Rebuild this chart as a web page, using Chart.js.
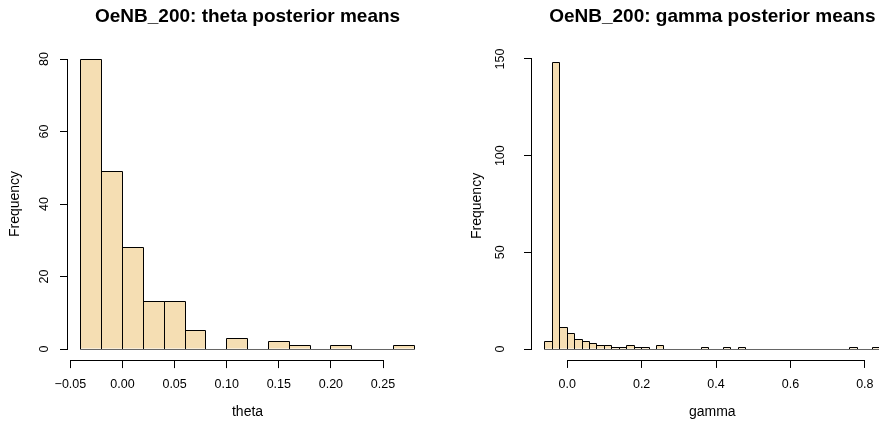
<!DOCTYPE html>
<html>
<head>
<meta charset="utf-8">
<script src="https://cdn.jsdelivr.net/npm/chart.js@4.4.1/dist/chart.umd.min.js"></script>
<style>
  html, body { margin: 0; padding: 0; background: #fff; overflow: hidden; }
  #thetaBox { position: absolute; left: 0; top: 0; width: 440px; height: 424px; }
  #gammaBox { position: absolute; left: 440px; top: 0; width: 470px; height: 424px; }
</style>
</head>
<body>
<div id="thetaBox"><canvas id="thetaChart"></canvas></div>
<div id="gammaBox"><canvas id="gammaChart"></canvas></div>
<script>
// histogram bins (width 0.02), given by their midpoints
const thetaMids = [-0.03, -0.01, 0.01, 0.03, 0.05, 0.07, 0.09, 0.11, 0.13, 0.15, 0.17, 0.19, 0.21, 0.23, 0.25, 0.27];
const thetaCounts = [80, 49, 28, 13, 13, 5, 0, 3, 0, 2, 1, 0, 1, 0, 0, 1];
const thetaTicks = [-0.05, 0, 0.05, 0.10, 0.15, 0.20, 0.25];
const thetaTickLabels = ['\u22120.05', '0.00', '0.05', '0.10', '0.15', '0.20', '0.25'];
const thetaFreqTicks = [0, 20, 40, 60, 80];

const gammaMids = [-0.05, -0.03, -0.01, 0.01, 0.03, 0.05, 0.07, 0.09, 0.11, 0.13,
  0.15, 0.17, 0.19, 0.21, 0.23, 0.25, 0.27, 0.29, 0.31, 0.33,
  0.35, 0.37, 0.39, 0.41, 0.43, 0.45, 0.47, 0.49, 0.51, 0.53,
  0.55, 0.57, 0.59, 0.61, 0.63, 0.65, 0.67, 0.69, 0.71, 0.73,
  0.75, 0.77, 0.79, 0.81, 0.83];
const gammaCounts = [4, 148, 11, 8, 5, 4, 3, 2, 2, 1,
  1, 2, 1, 1, 0, 2, 0, 0, 0, 0,
  0, 1, 0, 0, 1, 0, 1, 0, 0, 0,
  0, 0, 0, 0, 0, 0, 0, 0, 0, 0,
  0, 1, 0, 0, 1];
const gammaTicks = [0, 0.2, 0.4, 0.6, 0.8];
const gammaTickLabels = ['0.0', '0.2', '0.4', '0.6', '0.8'];
const gammaFreqTicks = [0, 50, 100, 150];

const binWidth = 0.02;
const FONT = '"Liberation Sans", Arial, Helvetica, sans-serif';

// snap to the nearest half pixel so 1px lines stay crisp
const half = v => Math.round(v - 0.5) + 0.5;

// R-style drawing: bar outlines, base line of the bins, axis lines between first and last tick
function rStyle(cfg) {
  return {
    id: 'rStyle',
    afterDatasetsDraw(chart) {
      const { ctx } = chart;
      const x = chart.scales.x, y = chart.scales.y;
      const y0 = half(y.getPixelForValue(0));
      ctx.save();
      ctx.lineWidth = 1;
      ctx.strokeStyle = '#000';
      ctx.beginPath();
      chart.getDatasetMeta(0).data.forEach((bar, i) => {
        if (!cfg.counts[i]) return;
        const p = bar.getProps(['x', 'y', 'width'], true);
        const l = half(p.x - p.width / 2), r = half(p.x + p.width / 2), t = half(p.y);
        ctx.moveTo(l, y0);
        ctx.lineTo(l, t);
        ctx.lineTo(r, t);
        ctx.lineTo(r, y0);
      });
      ctx.stroke();
      ctx.strokeStyle = '#666';
      ctx.beginPath();
      ctx.moveTo(half(x.getPixelForValue(cfg.mids[0] - binWidth / 2)), y0);
      ctx.lineTo(half(x.getPixelForValue(cfg.mids[cfg.mids.length - 1] + binWidth / 2)), y0);
      ctx.stroke();
      ctx.restore();
    },
    afterDraw(chart) {
      const { ctx, chartArea } = chart;
      const x = chart.scales.x, y = chart.scales.y;
      const yb = half(chartArea.bottom);
      const xl = half(chartArea.left);
      ctx.save();
      ctx.strokeStyle = '#000';
      ctx.lineWidth = 1;
      ctx.beginPath();
      ctx.moveTo(half(x.getPixelForValue(cfg.xTicks[0])) - 0.5, yb);
      ctx.lineTo(half(x.getPixelForValue(cfg.xTicks[cfg.xTicks.length - 1])) + 0.5, yb);
      ctx.moveTo(xl, half(y.getPixelForValue(cfg.yTicks[0])) + 0.5);
      ctx.lineTo(xl, half(y.getPixelForValue(cfg.yTicks[cfg.yTicks.length - 1])) - 0.5);
      ctx.stroke();
      ctx.restore();
    }
  };
}

function makeHist(canvasId, cfg) {
  const ctx = document.getElementById(canvasId).getContext('2d');
  return new Chart(ctx, {
    type: 'bar',
    data: {
      datasets: [{
        data: cfg.mids.map((m, i) => ({ x: m, y: cfg.counts[i] })),
        backgroundColor: '#F5DEB3',
        borderWidth: 0,
        barPercentage: 1,
        categoryPercentage: 1,
        inflateAmount: 0
      }]
    },
    plugins: [rStyle(cfg)],
    options: {
      responsive: true,
      maintainAspectRatio: false,
      animation: false,
      events: [],
      layout: { padding: { left: 0, top: 0, bottom: 0, right: cfg.padRight } },
      plugins: {
        legend: { display: false },
        tooltip: { enabled: false },
        title: {
          display: true,
          text: cfg.title,
          color: '#000',
          fullSize: false,
          font: { family: FONT, size: 19, weight: 'bold' },
          padding: { top: 5.3, bottom: cfg.titleGap }
        }
      },
      scales: {
        x: {
          type: 'linear',
          min: cfg.xMin,
          max: cfg.xMax,
          offset: false,
          afterBuildTicks: s => { s.ticks = cfg.xTicks.map(v => ({ value: v })); },
          afterFit: s => { s.height = cfg.xAxisHeight; },
          grid: { display: true, drawOnChartArea: false, drawTicks: true, tickLength: 7.5, color: '#000', lineWidth: 1, offset: false },
          border: { display: false },
          ticks: {
            autoSkip: false,
            maxRotation: 0,
            padding: 8.7,
            color: '#000',
            font: { family: FONT, size: 12.5 },
            callback: (v, i) => cfg.xLabels[i]
          },
          title: {
            display: true,
            text: cfg.xTitle,
            color: '#000',
            font: { family: FONT, size: 14 },
            padding: { top: 0, bottom: 3.6 }
          }
        },
        y: {
          type: 'linear',
          min: cfg.yMin,
          max: cfg.yMax,
          afterBuildTicks: s => { s.ticks = cfg.yTicks.map(v => ({ value: v })); },
          afterFit: s => { s.width = cfg.yAxisWidth; },
          grid: { display: true, drawOnChartArea: false, drawTicks: true, tickLength: 7.5, color: '#000', lineWidth: 1 },
          border: { display: false },
          ticks: {
            autoSkip: false,
            minRotation: 90,
            maxRotation: 90,
            crossAlign: 'center',
            padding: cfg.yTickPad,
            color: '#000',
            font: { family: FONT, size: 12.5 }
          },
          title: {
            display: true,
            text: 'Frequency',
            color: '#000',
            font: { family: FONT, size: 14 },
            padding: { top: cfg.yTitlePad, bottom: 0 }
          }
        }
      }
    }
  });
}

const thetaChart = makeHist('thetaChart', {
  mids: thetaMids, counts: thetaCounts,
  title: 'OeNB_200: theta posterior means', xTitle: 'theta',
  xTicks: thetaTicks, xLabels: thetaTickLabels, yTicks: thetaFreqTicks,
  xMin: -0.0528, xMax: 0.2928, yMin: -3.2, yMax: 83.2,
  padRight: 12.4, titleGap: 19.3, xAxisHeight: 63.4, yAxisWidth: 67.5,
  yTickPad: 8.6, yTitlePad: 6.8
});

const gammaChart = makeHist('gammaChart', {
  mids: gammaMids, counts: gammaCounts,
  title: 'OeNB_200: gamma posterior means', xTitle: 'gamma',
  xTicks: gammaTicks, xLabels: gammaTickLabels, yTicks: gammaFreqTicks,
  xMin: -0.096, xMax: 0.876, yMin: -5.92, yMax: 153.92,
  padRight: 16.9, titleGap: 23.3, xAxisHeight: 63.55, yAxisWidth: 91.5,
  yTickPad: 12.9, yTitlePad: 29.1
});
</script>
</body>
</html>
